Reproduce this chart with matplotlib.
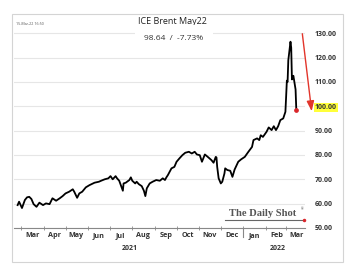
import numpy as np
import pandas as pd
import matplotlib
matplotlib.use('Agg')
import matplotlib.pyplot as plt
import matplotlib.dates as mdates
from matplotlib.patches import Rectangle
from matplotlib.lines import Line2D

plt.rcParams['font.family'] = ['Open Sans', 'DejaVu Sans']

# ---- data (ICE Brent May22 future) ----
dates = [
    '2021-02-24', '2021-02-26', '2021-03-02', '2021-03-06', '2021-03-09', '2021-03-12',
    '2021-03-15', '2021-03-18', '2021-03-22', '2021-03-26', '2021-03-31', '2021-04-04',
    '2021-04-09', '2021-04-13', '2021-04-18', '2021-04-23', '2021-04-27', '2021-05-01',
    '2021-05-06', '2021-05-11', '2021-05-13', '2021-05-17', '2021-05-20', '2021-05-24',
    '2021-05-29', '2021-06-03', '2021-06-10', '2021-06-16', '2021-06-19', '2021-06-24',
    '2021-06-29', '2021-07-02', '2021-07-05', '2021-07-09', '2021-07-11', '2021-07-14',
    '2021-07-19', '2021-07-20', '2021-07-23', '2021-07-28', '2021-07-30', '2021-08-01',
    '2021-08-05', '2021-08-07', '2021-08-10', '2021-08-14', '2021-08-17', '2021-08-19',
    '2021-08-21', '2021-08-25', '2021-08-29', '2021-09-03', '2021-09-08', '2021-09-12',
    '2021-09-15', '2021-09-17', '2021-09-19', '2021-09-24', '2021-09-28', '2021-10-01',
    '2021-10-05', '2021-10-09', '2021-10-13', '2021-10-18', '2021-10-22', '2021-10-26',
    '2021-10-29', '2021-11-02', '2021-11-05', '2021-11-09', '2021-11-13', '2021-11-18',
    '2021-11-21', '2021-11-24', '2021-11-25', '2021-11-26', '2021-11-28', '2021-12-01',
    '2021-12-03', '2021-12-06', '2021-12-07', '2021-12-10', '2021-12-14', '2021-12-17',
    '2021-12-20', '2021-12-25', '2021-12-29', '2022-01-03', '2022-01-08', '2022-01-13',
    '2022-01-15', '2022-01-20', '2022-01-23', '2022-01-25', '2022-01-28', '2022-02-02',
    '2022-02-05', '2022-02-09', '2022-02-12', '2022-02-15', '2022-02-18', '2022-02-21',
    '2022-02-25', '2022-02-28', '2022-03-01', '2022-03-02', '2022-03-03', '2022-03-04',
    '2022-03-07', '2022-03-08', '2022-03-09', '2022-03-10', '2022-03-11', '2022-03-14',
    '2022-03-15',
]
prices = [
    59.4, 60.8, 58.2, 61.5, 62.6, 62.8,
    61.9, 59.8, 58.7, 60.4, 59.4, 60.1,
    59.8, 62.2, 61.2, 62.2, 63.1, 64.2,
    64.9, 65.9, 64.9, 62.4, 64.2, 64.9,
    66.7, 67.6, 68.6, 69.0, 69.4, 70.0,
    70.4, 71.3, 70.0, 71.3, 70.4, 69.4,
    65.3, 68.3, 68.6, 69.7, 70.8, 69.4,
    68.3, 69.0, 68.0, 67.2, 65.3, 63.1,
    66.3, 68.3, 69.0, 69.7, 69.4, 70.4,
    69.7, 70.8, 71.7, 74.5, 75.1, 77.2,
    78.6, 79.9, 80.9, 81.3, 80.6, 81.3,
    80.2, 79.9, 77.2, 80.2, 79.2, 77.9,
    76.8, 79.2, 79.0, 75.1, 70.4, 68.3,
    69.0, 72.4, 74.5, 73.8, 73.5, 71.0,
    74.0, 77.2, 78.2, 79.2, 81.3, 83.3,
    86.1, 86.8, 86.1, 88.1, 87.4, 89.5,
    91.3, 90.2, 91.8, 90.2, 91.8, 94.3,
    95.0, 97.7, 104.0, 110.5, 110.0, 118.9,
    126.5, 124.0, 111.0, 112.0, 112.5, 106.9,
    98.64,
]
yticks = [50, 60, 70, 80, 90, 100, 110, 120, 130]

x = pd.to_datetime(dates)

W, H = 359, 277
fig = plt.figure(figsize=(W / 100, H / 100), dpi=100)
fig.set_facecolor('white')

# outer frame
fig.add_artist(Rectangle((12 / W, 1 - 262 / H), 331 / W, 248 / H,
                         transform=fig.transFigure, fill=False,
                         edgecolor='#d4d4d4', linewidth=0.8))

ax = fig.add_axes([14 / W, 49 / H, 291 / W, 207 / H])
ax.plot(x, prices, color='black', linewidth=1.3, zorder=3)
ax.plot(x[-1:], prices[-1:], 'o', color='#d9262b', markersize=2.4, zorder=4)

ax.set_ylim(50, 135)
ax.set_xlim(pd.Timestamp('2021-02-19'), pd.Timestamp('2022-03-27'))

ax.set_yticks(yticks)
ax.yaxis.tick_right()
ax.set_yticklabels([f'{v:.2f}' for v in yticks], fontsize=5, fontweight='bold',
                   color='#333333')
ax.tick_params(axis='y', length=0, pad=7)
ax.grid(axis='y', color='#e6e6e6', linewidth=0.8, zorder=0)

# month boundaries as major ticks, labels at mid-month
ax.xaxis.set_major_locator(mdates.MonthLocator())
ax.xaxis.set_major_formatter(plt.NullFormatter())
ax.xaxis.set_minor_locator(mdates.MonthLocator(bymonthday=16))
ax.xaxis.set_minor_formatter(mdates.DateFormatter('%b'))
ax.tick_params(axis='x', which='major', direction='inout', length=3,
               width=0.6, color='#888888')
ax.tick_params(axis='x', which='minor', length=0, pad=3, labelsize=5.2,
               labelcolor='#333333')
for lbl in ax.xaxis.get_minorticklabels():
    lbl.set_fontweight('bold')

for side in ['top', 'left', 'right']:
    ax.spines[side].set_visible(False)
ax.spines['bottom'].set_color('#888888')
ax.spines['bottom'].set_linewidth(0.8)

# year separator
ax.plot([pd.Timestamp('2022-01-01')] * 2, [50, 46.2], color='#888888',
        linewidth=0.8, clip_on=False)
fig.text(130 / W, 1 - 248 / H, '2021', ha='center', va='center', fontsize=5,
         fontweight='bold', color='#333333')
fig.text(278 / W, 1 - 248 / H, '2022', ha='center', va='center', fontsize=5,
         fontweight='bold', color='#333333')

# highlight the 100 label
for lbl, v in zip(ax.get_yticklabels(), yticks):
    if v == 100:
        lbl.set_bbox(dict(boxstyle='square,pad=0.15', facecolor='#ffff3a',
                          edgecolor='none'))

# titles
fig.text(172 / W, 1 - 21 / H, 'ICE Brent May22', ha='center', va='center',
         fontsize=6.5, color='#222222')
fig.text(174 / W, 1 - 38 / H, '98.64  /  -7.73%', ha='center', va='center',
         fontsize=6, color='#333333',
         bbox=dict(boxstyle='square,pad=1.1', facecolor='white', edgecolor='none'),
         zorder=5)
fig.text(16 / W, 1 - 24 / H, '15-Mar-22 16:50', ha='left', va='center',
         fontsize=2.6, color='#555555')

# red arrow
ax.annotate('', xy=(312 / W, 1 - 114 / H), xytext=(302 / W, 1 - 31 / H),
            xycoords='figure fraction', textcoords='figure fraction',
            arrowprops=dict(arrowstyle='-|>,head_length=0.6,head_width=0.22',
                            color='#e2352b', linewidth=1.0),
            annotation_clip=False)

# logo
fig.text(263 / W, 1 - 214 / H, 'The Daily Shot', ha='center', va='center',
         fontsize=7.6, family='Liberation Serif', fontweight='bold',
         color='#555555')
fig.text(302 / W, 1 - 209 / H, '®', ha='center', va='center', fontsize=2.5,
         color='#4a4a4a')
fig.add_artist(Line2D([225 / W, 302 / W], [1 - 220 / H, 1 - 220 / H],
                      transform=fig.transFigure, color='#666666', linewidth=0.8))
fig.add_artist(Line2D([304 / W], [1 - 220 / H], transform=fig.transFigure,
                      marker='o', markersize=1.5, color='#d9262b'))

fig.savefig('out.png', dpi=100, facecolor='white')
